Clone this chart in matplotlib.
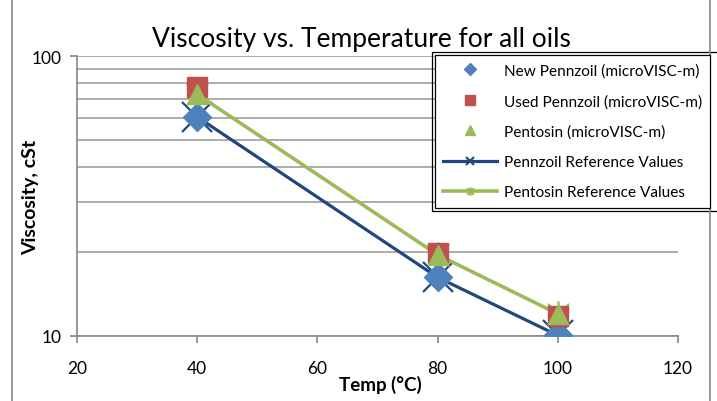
import numpy as np
import matplotlib
matplotlib.use("Agg")
import matplotlib.pyplot as plt
from matplotlib.lines import Line2D
from matplotlib.path import Path
from matplotlib.patches import Rectangle
from matplotlib.ticker import FixedLocator, NullFormatter, NullLocator

plt.rcParams['font.family'] = ['Lato', 'DejaVu Sans']

# data
temps = [40, 80, 100]
new_pennzoil = [60.6, 16.2, 10.05]
used_pennzoil = [77.5, 19.8, 11.8]
pentosin = [73.0, 19.5, 12.0]
pennzoil_ref = [60.6, 16.2, 10.05]
pentosin_ref = [73.0, 19.5, 12.0]

x_ticks = [20, 40, 60, 80, 100, 120]
y_major = [10, 100]
y_minor = [20, 30, 40, 50, 60, 70, 80, 90]

c_blue = '#4F81BD'
c_red = '#C0504D'
c_green = '#9BBB59'
c_navy = '#1F497D'
c_grid = '#A6A6A6'
c_axis = '#868686'

# excel style star: X plus vertical bar
star = Path([(-1, -1), (1, 1), (-1, 1), (1, -1), (0, -1.25), (0, 1.25)],
            [Path.MOVETO, Path.LINETO, Path.MOVETO, Path.LINETO, Path.MOVETO, Path.LINETO])

fig = plt.figure(figsize=(7.17, 4.02), dpi=100)
ax = fig.add_axes([0.1074, 0.1617, 0.8382, 0.6965])

# reference lines
ax.plot(temps, pennzoil_ref, color=c_navy, lw=2.3, marker='x', ms=21, mew=1.6, zorder=3)
ax.plot(temps, pentosin_ref, color=c_green, lw=2.6, marker=star, ms=19, mew=1.6, zorder=3)

# measured points
ax.plot(temps, new_pennzoil, ls='none', marker='D', ms=14, color=c_blue, zorder=4)
ax.plot(temps, used_pennzoil, ls='none', marker='s', ms=14, color=c_red, zorder=4)
ax.plot(temps, pentosin, ls='none', marker='^', ms=15, color=c_green, zorder=5)

ax.set_yscale('log')
ax.set_xlim(20, 120)
ax.set_ylim(10, 100)
ax.xaxis.set_major_locator(FixedLocator(x_ticks))
ax.yaxis.set_major_locator(FixedLocator(y_major))
ax.yaxis.set_minor_locator(FixedLocator(y_minor))
ax.yaxis.set_minor_formatter(NullFormatter())
ax.set_yticklabels([str(v) for v in y_major])
ax.grid(True, which='both', axis='y', color=c_grid, lw=1.3, zorder=0)
ax.set_axisbelow(True)

for s in ['top', 'right']:
    ax.spines[s].set_visible(False)
for s in ['left', 'bottom']:
    ax.spines[s].set_color(c_axis)
    ax.spines[s].set_linewidth(1.2)
ax.tick_params(which='major', direction='out', length=5, width=1.2, color=c_axis,
               labelsize=12.5)
ax.tick_params(axis='x', pad=12)
ax.tick_params(axis='y', pad=6)
ax.tick_params(which='minor', length=0)

ax.set_xlabel('Temp (°C)', fontsize=13.5, fontweight='bold', va='center', ha='center')
ax.xaxis.set_label_coords((380 - 77) / 601, -(385 - 337) / 280)
ax.set_ylabel('Viscosity, cSt', fontsize=14, fontweight='bold', va='center', ha='center')
ax.yaxis.set_label_coords(-(77 - 31) / 601, (337 - 197) / 280)
fig.text(361 / 717, 1 - 40 / 402, 'Viscosity vs. Temperature for all oils', fontsize=19,
         ha='center', va='center')

# chart area border
fig.add_artist(Line2D([12 / 717, 12 / 717], [0, 1], color=c_axis, lw=1.2))
fig.add_artist(Line2D([710 / 717, 710 / 717], [0, 1], color=c_axis, lw=1.2))

handles = [
    Line2D([], [], ls='none', marker='D', ms=6, color=c_blue),
    Line2D([], [], ls='none', marker='s', ms=7, color=c_red),
    Line2D([], [], ls='none', marker='^', ms=7, color=c_green),
    Line2D([], [], color=c_navy, lw=2.3, marker='x', ms=6, mew=1.5),
    Line2D([], [], color=c_green, lw=2.6, marker=star, ms=6, mew=1.5),
]
labels = ['New Pennzoil (microVISC-m)', 'Used Pennzoil (microVISC-m)',
          'Pentosin (microVISC-m)', 'Pennzoil Reference Values',
          'Pentosin Reference Values']
leg = fig.legend(handles, labels, loc='upper left', bbox_to_anchor=(435 / 717, 1 - 56 / 402),
                 frameon=True, fancybox=False, fontsize=11.1, handlelength=3.5,
                 handletextpad=0.4, labelspacing=1.05, borderpad=0.55, borderaxespad=0)
leg.get_frame().set_edgecolor('black')
leg.get_frame().set_linewidth(0.9)
leg.get_frame().set_facecolor('white')
leg.get_frame().set_alpha(1)

fig.canvas.draw()
bb = leg.get_window_extent()
fig.add_artist(Rectangle((bb.x0 - 3, bb.y0 - 3), bb.width + 40, bb.height + 6,
                         transform=None, fill=False, edgecolor='black', lw=0.9))

fig.savefig('out.png', dpi=100)
